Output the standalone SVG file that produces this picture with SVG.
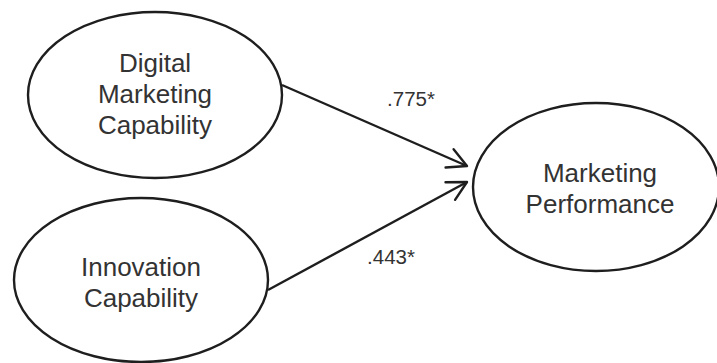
<svg xmlns="http://www.w3.org/2000/svg" width="717" height="363" viewBox="0 0 717 363">
  <style>
    .node ellipse { fill: #ffffff; stroke: #1e1e1e; stroke-width: 2.4; }
    .label { font-family: "Liberation Sans", Arial, sans-serif; font-size: 26px; fill: #333333; text-anchor: middle; }
    .coef { font-family: "Liberation Sans", Arial, sans-serif; font-size: 20.5px; fill: #333333; text-anchor: middle; }
    .edge { fill: none; stroke: #1e1e1e; stroke-width: 2.4; }
  </style>
  <defs>
    <marker id="open-arrow" markerUnits="userSpaceOnUse" markerWidth="30" markerHeight="30" refX="0" refY="0" orient="auto" overflow="visible">
      <path d="M -19,-10 L 0,0 L -19,10" fill="none" stroke="#1e1e1e" stroke-width="2.4" stroke-linejoin="round" stroke-linecap="round"/>
    </marker>
  </defs>
  <rect width="717" height="363" fill="#ffffff"/>

  <g id="connectors">
    <line class="edge" x1="282" y1="85" x2="467" y2="166" marker-end="url(#open-arrow)"/>
    <line class="edge" x1="268" y1="290" x2="467" y2="182" marker-end="url(#open-arrow)"/>
    <text class="coef" x="411" y="106">.775*</text>
    <text class="coef" x="391" y="264">.443*</text>
  </g>

  <g id="digital-marketing-capability" class="node">
    <ellipse cx="155" cy="95" rx="127" ry="83"/>
    <text class="label" x="155" y="72">Digital</text>
    <text class="label" x="155" y="103">Marketing</text>
    <text class="label" x="155" y="134">Capability</text>
  </g>

  <g id="innovation-capability" class="node">
    <ellipse cx="141" cy="280" rx="127" ry="82"/>
    <text class="label" x="141" y="276">Innovation</text>
    <text class="label" x="141" y="307">Capability</text>
  </g>

  <g id="marketing-performance" class="node">
    <ellipse cx="596" cy="187" rx="123" ry="84"/>
    <text class="label" x="600" y="182">Marketing</text>
    <text class="label" x="600" y="213">Performance</text>
  </g>
</svg>
